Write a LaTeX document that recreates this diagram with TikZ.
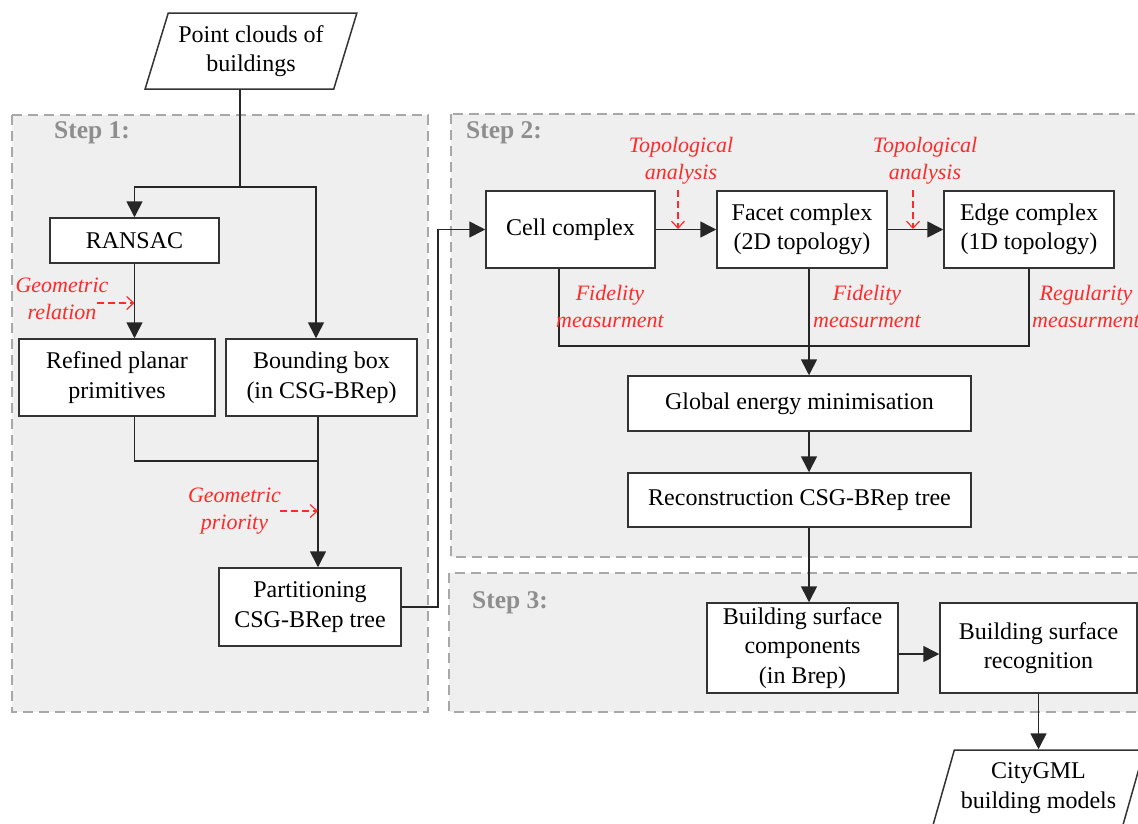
\documentclass[tikz,border=0pt]{standalone}
\usepackage{fontspec}
\setmainfont{Liberation Serif}
\usetikzlibrary{arrows.meta,shapes.geometric}
\definecolor{panelfill}{HTML}{EFEFEF}
\definecolor{paneldraw}{HTML}{A8A8A8}
\definecolor{steptext}{HTML}{8E8E8E}
\definecolor{notered}{HTML}{FF2A2A}
\definecolor{boxline}{HTML}{333333}
\begin{document}
\begin{tikzpicture}[x=1pt,y=-1pt,
  panel/.style={fill=panelfill,draw=paneldraw,line width=2pt,dash pattern=on 10pt off 6pt},
  steplabel/.style={anchor=west,inner sep=0pt,text=steptext,font=\fontsize{25.5}{30}\selectfont\bfseries},
  box/.style={draw=boxline,fill=white,line width=1.5pt,inner sep=0pt,align=center,
    font=\fontsize{24}{29.5}\selectfont},
  io/.style={trapezium,trapezium left angle=68.5,trapezium right angle=111.5,
    trapezium stretches=true,draw=boxline,fill=white,line width=1.5pt,inner sep=0pt,
    align=center,minimum width=212pt,minimum height=76pt,font=\fontsize{24}{29.5}\selectfont},
  link/.style={draw=black!85,line width=1.6pt},
  flow/.style={link,-{Triangle[length=16pt,width=16pt]}},
  note/.style={inner sep=0pt,align=center,text=notered,font=\fontsize{22}{27}\selectfont\itshape},
  notearrow/.style={draw=notered,line width=1.2pt,dash pattern=on 7pt off 4pt,
    -{Straight Barb[length=7pt,width=13pt]}}]
\clip (0,0) rectangle (1138,823);
\fill[white] (0,0) rectangle (1138,823);

% step panels
\draw[panel] (12,115) rectangle (428,712);
\draw[panel] (451,114) rectangle (1150,557);
\draw[panel] (449,573) rectangle (1150,712);
\node[steplabel] (s1) at (54,133) {Step 1:};
\node[steplabel] (s2) at (466,133) {Step 2:};
\node[steplabel] (s3) at (472,603) {Step 3:};

% input and output data
\node[io] (pc) at (251,51) {Point clouds of\\buildings};
\node[io] (cg) at (1038.5,788) {CityGML\\building models};

% step 1
\node[box,minimum width=169pt,minimum height=45pt] (ransac) at (134.5,240.5) {RANSAC};
\node[box,minimum width=196pt,minimum height=77pt] (refined) at (117,377.5) {Refined planar\\primitives};
\node[box,minimum width=191pt,minimum height=77pt] (bbox) at (321.5,377.5) {Bounding box\\(in CSG-BRep)};
\node[box,minimum width=182pt,minimum height=78pt] (part) at (310,607) {Partitioning\\CSG-BRep tree};

% step 2
\node[box,minimum width=169pt,minimum height=77pt] (cell) at (570.5,229.5) {Cell complex};
\node[box,minimum width=170pt,minimum height=77pt] (facet) at (802,229.5) {Facet complex\\(2D topology)};
\node[box,minimum width=170pt,minimum height=77pt] (edge) at (1029,229.5) {Edge complex\\(1D topology)};
\node[box,minimum width=343pt,minimum height=55pt] (global) at (799.5,403.5) {Global energy minimisation};
\node[box,minimum width=343pt,minimum height=54pt] (recon) at (799.5,500) {Reconstruction CSG-BRep tree};

% step 3
\node[box,minimum width=191pt,minimum height=90pt] (bsc) at (802.5,648) {Building surface\\components\\(in Brep)};
\node[box,minimum width=197pt,minimum height=90pt] (bsr) at (1038.5,648) {Building surface\\recognition};

% connectors of step 1
\coordinate (split) at (240,187);
\coordinate (bbin) at (316,187);
\coordinate (join) at (318,461);
\draw[link] (pc.south -| split) -- (split);
\draw[flow] (split) -| (ransac.north);
\draw[flow] (split) -- (bbin) -- (bbin |- bbox.north);
\draw[flow] (ransac.south) -- (ransac.south |- refined.north);
\draw[link] (ransac.south |- refined.south) |- (join);
\draw[flow] (bbox.south -| join) -- (join) -- (join |- part.north);

% hand-over to step 2
\coordinate (riser) at (438,607);
\draw[flow] (part.east |- riser) -- (riser) |- (cell.west);

% connectors of step 2
\coordinate (cfid) at (559,346);
\coordinate (gather) at (809,346);
\draw[flow] (cell.east) -- (facet.west);
\draw[flow] (facet.east) -- (edge.west);
\draw[link] (cell.south -| cfid) -- (cfid) -- (gather);
\draw[link] (edge.south) |- (gather);
\draw[flow] (facet.south -| gather) -- (gather) -- (gather |- global.north);
\draw[flow] (global.south -| gather) -- (gather |- recon.north);
\draw[flow] (recon.south -| gather) -- (gather |- bsc.north);

% connectors of step 3
\coordinate (hand) at (920,654);
\draw[flow] (bsc.east |- hand) -- (bsr.west |- hand);
\draw[flow] (bsr.south) -- (bsr.south |- cg.north);

% annotations
\node[note] (grel) at (62,299) {Geometric\\relation};
\coordinate (grelA) at (97,303);
\draw[notearrow] (grelA) -- (ransac.south |- grelA);

\node[note] (gpri) at (234.5,511.5) {Geometric\\priority};
\coordinate (gpriA) at (280,511);
\draw[notearrow] (gpriA) -- (join |- gpriA);

\node[note] (topoA) at (681,160.5) {Topological\\analysis};
\coordinate (topoAs) at (678,190);
\coordinate (topoAe) at (678,229);
\draw[notearrow] (topoAs) -- (topoAe);

\node[note] (topoB) at (925,160.5) {Topological\\analysis};
\coordinate (topoBs) at (913,190);
\coordinate (topoBe) at (913,229);
\draw[notearrow] (topoBs) -- (topoBe);

\node[note] (fidA) at (610,306.5) {Fidelity\\measurment};
\node[note] (fidB) at (867,306.5) {Fidelity\\measurment};
\node[note] (regu) at (1086,306.5) {Regularity\\measurment};
\end{tikzpicture}
\end{document}
